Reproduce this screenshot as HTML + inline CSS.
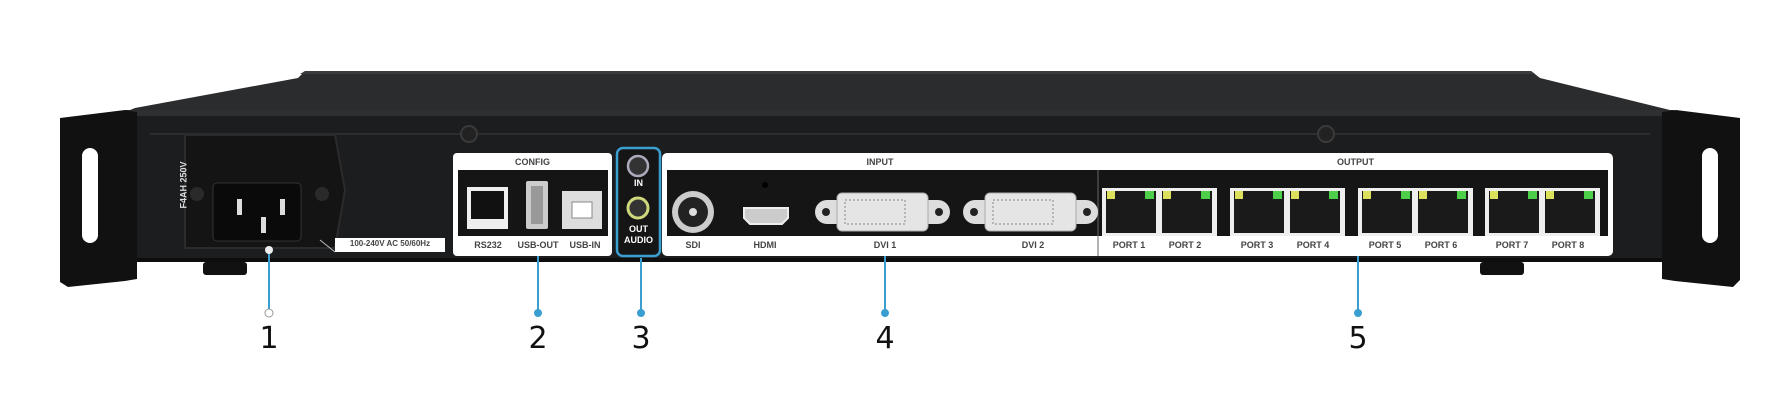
<!DOCTYPE html>
<html><head><meta charset="utf-8"><style>
body{margin:0;width:1776px;height:406px;background:#fff;overflow:hidden;position:relative;font-family:"Liberation Sans",sans-serif}
.a{position:absolute}
.lbl{position:absolute;font-size:9px;color:#444;font-weight:bold;text-align:center}
.num{position:absolute;font-size:30px;color:#111;top:321px;width:30px;text-align:center;font-family:"DejaVu Sans",sans-serif}
</style></head><body>
<svg class="a" style="left:0;top:0" width="1776" height="406">
  <!-- top chassis -->
  <polygon points="305,71 1531,71 1540,78 1670,110 1674,112 125,112 135,108 298,78" fill="#2b2c2e"/>
  <polygon points="305,71 1531,71 1535,74 300,74" fill="#3a3b3d"/>
  <!-- front face -->
  <rect x="125" y="110" width="1549" height="152" fill="#1c1d1f"/>
  <rect x="125" y="110" width="1549" height="6" fill="#2e2f31"/>
  <rect x="125" y="258" width="1549" height="4" fill="#0e0e0f"/>
  <line x1="150" y1="134" x2="1650" y2="134" stroke="#2c2d2f" stroke-width="2"/>
  <!-- brackets -->
  <polygon points="60,118 125,110 137,112 137,279 125,281 68,287 60,282" fill="#111"/>
  <rect x="82" y="148" width="16" height="95" rx="8" fill="#fff"/>
  <polygon points="1662,112 1676,110 1740,118 1740,280 1733,287 1675,281 1662,279" fill="#111"/>
  <rect x="1702" y="148" width="16" height="95" rx="8" fill="#fff"/>
  <!-- feet -->
  <rect x="203" y="262" width="44" height="13" rx="3" fill="#111"/>
  <rect x="1480" y="262" width="44" height="13" rx="3" fill="#111"/>
  <!-- screws -->
  <circle cx="469" cy="134" r="8" fill="#222" stroke="#3a3a3a" stroke-width="2"/>
  <circle cx="1326" cy="134" r="8" fill="#222" stroke="#3a3a3a" stroke-width="2"/>
  <!-- power module -->
  <polygon points="185,135 335,135 345,190 335,248 185,248" fill="#141415" stroke="#2b2b2c" stroke-width="2"/>
  <circle cx="197" cy="194" r="7" fill="#2a2a2a"/><circle cx="322" cy="194" r="7" fill="#2a2a2a"/>
  <rect x="213" y="183" width="88" height="58" rx="4" fill="#0a0a0a" stroke="#333"/>
  <rect x="237" y="199" width="5" height="16" fill="#ddd"/><rect x="261" y="217" width="5" height="16" fill="#ddd"/><rect x="280" y="199" width="5" height="16" fill="#ddd"/>
  <line x1="320" y1="240" x2="335" y2="252" stroke="#bbb"/>
  <rect x="335" y="238" width="110" height="14" fill="#fff"/>
  <!-- config panel -->
  <rect x="453" y="153" width="159" height="103" rx="4" fill="#fff"/>
  <rect x="458" y="170" width="150" height="66" fill="#151516"/>
  <rect x="467" y="187" width="41" height="42" fill="#eee"/><rect x="471" y="191" width="33" height="28" fill="#111"/>
  <rect x="526" y="181" width="22" height="48" rx="2" fill="#ccc"/><rect x="531" y="186" width="12" height="38" fill="#999"/>
  <rect x="562" y="191" width="40" height="38" fill="#ddd"/><rect x="572" y="202" width="20" height="16" fill="#fff" stroke="#888"/>
  <!-- audio -->
  <rect x="617" y="148" width="43" height="108" rx="6" fill="#151516" stroke="#3a9fd0" stroke-width="2.5"/>
  <circle cx="638" cy="166" r="10" fill="#333" stroke="#aab" stroke-width="2.5"/>
  <circle cx="638" cy="208" r="10" fill="#333" stroke="#cfd87a" stroke-width="3"/>
  <!-- input/output panel -->
  <rect x="662" y="153" width="951" height="103" rx="5" fill="#fff"/>
  <rect x="667" y="170" width="941" height="66" fill="#151516"/>
  <line x1="1098" y1="170" x2="1098" y2="256" stroke="#666"/>
  <!-- SDI -->
  <circle cx="693" cy="212" r="21" fill="#ccc"/><circle cx="693" cy="212" r="15" fill="#222"/><circle cx="693" cy="212" r="4" fill="#ddd"/>
  <!-- HDMI -->
  <circle cx="765" cy="185" r="3" fill="#000"/>
  <path d="M744,208 h44 v10 l-6,6 h-32 l-6,-6z" fill="#ccc" stroke="#eee" stroke-width="2"/>
  <!-- DVI 1 & 2 -->
  <g><rect x="815" y="200" width="135" height="24" rx="12" fill="#ddd"/><rect x="837" y="193" width="91" height="38" rx="5" fill="#e5e5e5" stroke="#aaa"/><circle cx="826" cy="212" r="4" fill="#222"/><circle cx="939" cy="212" r="4" fill="#222"/>
  <rect x="845" y="200" width="60" height="24" fill="none" stroke="#888" stroke-dasharray="2,2"/></g>
  <g transform="translate(148,0)"><rect x="815" y="200" width="135" height="24" rx="12" fill="#ddd"/><rect x="837" y="193" width="91" height="38" rx="5" fill="#e5e5e5" stroke="#aaa"/><circle cx="826" cy="212" r="4" fill="#222"/><circle cx="939" cy="212" r="4" fill="#222"/>
  <rect x="845" y="200" width="60" height="24" fill="none" stroke="#888" stroke-dasharray="2,2"/></g>
  <!-- RJ45 ports -->
  <g id="p">
   <rect x="1102" y="188" width="115" height="48" fill="#eee"/>
   <rect x="1106" y="191" width="50" height="42" fill="#1a1a1a"/><rect x="1162" y="191" width="50" height="42" fill="#1a1a1a"/>
   <rect x="1107" y="191" width="8" height="8" fill="#dde05a"/><rect x="1145" y="191" width="9" height="8" fill="#4cd04a"/>
   <rect x="1163" y="191" width="8" height="8" fill="#dde05a"/><rect x="1201" y="191" width="9" height="8" fill="#4cd04a"/>
  </g>
  <use href="#p" x="128"/><use href="#p" x="256"/><use href="#p" x="383"/>
  <!-- leaders -->
  <g stroke="#3a9fd0" stroke-width="2">
   <line x1="269" y1="252" x2="269" y2="312"/><line x1="538" y1="256" x2="538" y2="312"/>
   <line x1="641" y1="258" x2="641" y2="312"/><line x1="885" y1="256" x2="885" y2="312"/>
   <line x1="1358" y1="256" x2="1358" y2="312"/>
  </g>
  <circle cx="269" cy="250" r="4" fill="#eee"/>
  <circle cx="269" cy="313" r="4" fill="#fff" stroke="#999"/>
  <circle cx="538" cy="313" r="4" fill="#3a9fd0"/><circle cx="641" cy="313" r="4" fill="#3a9fd0"/>
  <circle cx="885" cy="313" r="4" fill="#3a9fd0"/><circle cx="1358" cy="313" r="4" fill="#3a9fd0"/>
</svg>
<div class="lbl" style="left:160px;top:180px;transform:rotate(-90deg);color:#ddd;font-size:9px">F4AH 250V</div>
<div class="lbl" style="left:336px;top:239px;width:108px;font-size:8px">100-240V AC 50/60Hz</div>
<div class="lbl" style="left:453px;top:157px;width:159px">CONFIG</div>
<div class="lbl" style="left:467px;top:240px;width:42px">RS232</div>
<div class="lbl" style="left:513px;top:240px;width:50px">USB-OUT</div>
<div class="lbl" style="left:565px;top:240px;width:40px">USB-IN</div>
<div class="lbl" style="left:617px;top:178px;width:43px;color:#fff">IN</div>
<div class="lbl" style="left:617px;top:224px;width:43px;color:#fff;line-height:11px">OUT<br>AUDIO</div>
<div class="lbl" style="left:662px;top:157px;width:436px">INPUT</div>
<div class="lbl" style="left:1098px;top:157px;width:515px">OUTPUT</div>
<div class="lbl" style="left:673px;top:240px;width:40px">SDI</div>
<div class="lbl" style="left:745px;top:240px;width:40px">HDMI</div>
<div class="lbl" style="left:855px;top:240px;width:60px">DVI 1</div>
<div class="lbl" style="left:1003px;top:240px;width:60px">DVI 2</div>
<div class="lbl" style="left:1104px;top:240px;width:50px">PORT 1</div>
<div class="lbl" style="left:1160px;top:240px;width:50px">PORT 2</div>
<div class="lbl" style="left:1232px;top:240px;width:50px">PORT 3</div>
<div class="lbl" style="left:1288px;top:240px;width:50px">PORT 4</div>
<div class="lbl" style="left:1360px;top:240px;width:50px">PORT 5</div>
<div class="lbl" style="left:1416px;top:240px;width:50px">PORT 6</div>
<div class="lbl" style="left:1487px;top:240px;width:50px">PORT 7</div>
<div class="lbl" style="left:1543px;top:240px;width:50px">PORT 8</div>
<div class="num" style="left:254px">1</div>
<div class="num" style="left:523px">2</div>
<div class="num" style="left:626px">3</div>
<div class="num" style="left:870px">4</div>
<div class="num" style="left:1343px">5</div>
</body></html>
